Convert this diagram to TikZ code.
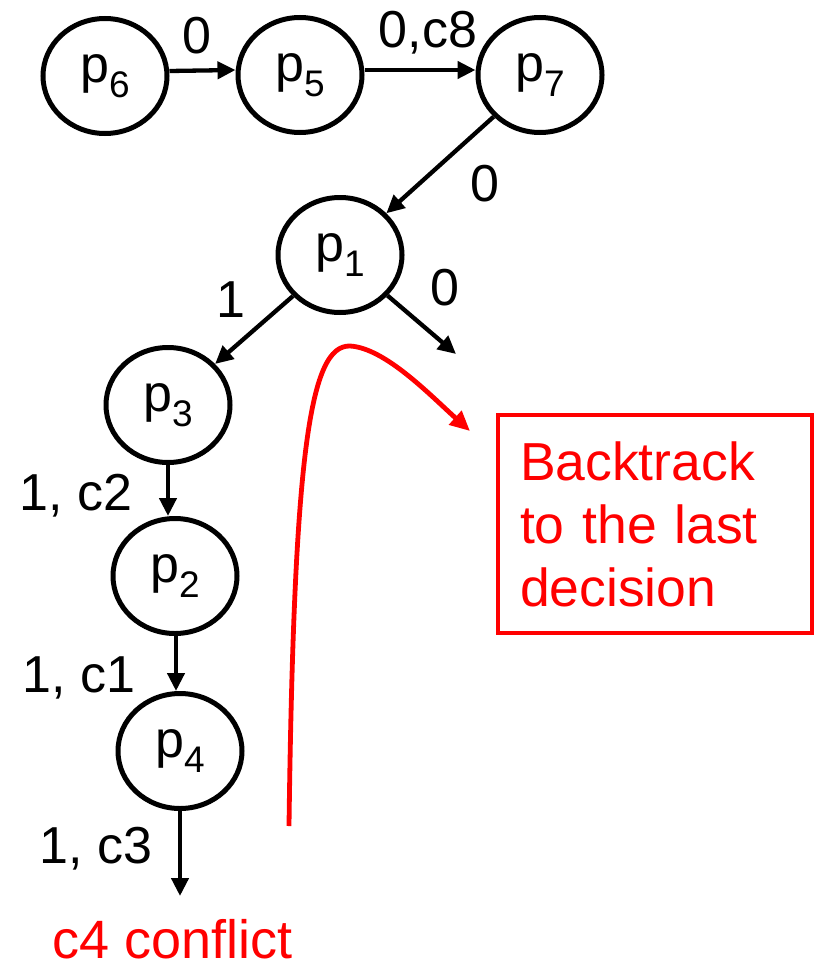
\documentclass[tikz,border=0pt]{standalone}
\usepackage{fontspec}
\setmainfont{Liberation Sans}
\usetikzlibrary{shapes.geometric,arrows.meta}
\newcommand{\pp}[1]{p\raisebox{-0.28em}{\fontsize{37}{37}\selectfont #1}}
\begin{document}
\begin{tikzpicture}[x=1pt,y=-1pt,
  pnode/.style={draw,ellipse,line width=5pt,minimum width=124pt,minimum height=115pt,inner sep=0pt,font=\fontsize{52}{60}\selectfont},
  arr/.style={line width=4.3pt,-{Triangle[length=18pt,width=17pt]}},
  lbl/.style={inner sep=0pt,font=\fontsize{52}{60}\selectfont},
  redarr/.style={red,line width=4.8pt,-{Triangle[length=20pt,width=18pt]}}]
\useasboundingbox (0,0) rectangle (815,971);
\node[pnode] (p6) at (105,76) {\pp{6}};
\node[pnode] (p5) at (300,75) {\pp{5}};
\node[pnode] (p7) at (540,75) {\pp{7}};
\node[pnode] (p1) at (340,255) {\pp{1}};
\node[pnode] (p3) at (168,405) {\pp{3}};
\node[pnode] (p2) at (175,576) {\pp{2}};
\node[pnode] (p4) at (180,751) {\pp{4}};
\coordinate (f1) at (456,354);
\coordinate (f4) at (180,896);
\coordinate (rs) at (289,826);
\coordinate (rt) at (350,346);
\coordinate (re) at (470,431);
\draw[arr] ([yshift=5pt]p6.east) -- ([yshift=5pt]p5.west);
\draw[arr] ([yshift=5pt]p5.east) -- ([yshift=5pt]p7.west);
\draw[arr] (p7) -- (p1);
\draw[arr] (p1) -- (p3);
\draw[arr] (p1) -- (f1);
\draw[arr] (p3.south) -- (p3.south |- p2.north);
\draw[arr] ([xshift=1pt]p2.south) -- ([xshift=1pt]p2.south |- p4.north);
\draw[arr] (p4.south) -- (f4);
\node[lbl] (l0a) at (197,36) {0};
\node[lbl] (l0b) at (428,33) {0,c8};
\node[lbl] (l0c) at (485,184) {0};
\node[lbl] (l1a) at (231,300) {1};
\node[lbl] (l0d) at (445,288) {0};
\node[lbl] (lc2) at (76,496) {1, c2};
\node[lbl] (lc1) at (79,678) {1, c1};
\node[lbl] (lc3) at (96,849) {1, c3};
\node[lbl,red,font=\fontsize{54}{60}\selectfont] (conf) at (173,939) {c4 conflict};
\node[draw=red,line width=4.8pt,text=red,minimum width=314pt,minimum height=218pt,text width=270pt,inner xsep=22pt,align=left,font=\fontsize{53.5}{63}\selectfont] (box) at (655,524) {Backtrack\\to the last\\decision};
\draw[redarr] (rs) .. controls (294,450) and (310,345) .. (rt) .. controls (385,348) and (430,395) .. (re);
\end{tikzpicture}
\end{document}
